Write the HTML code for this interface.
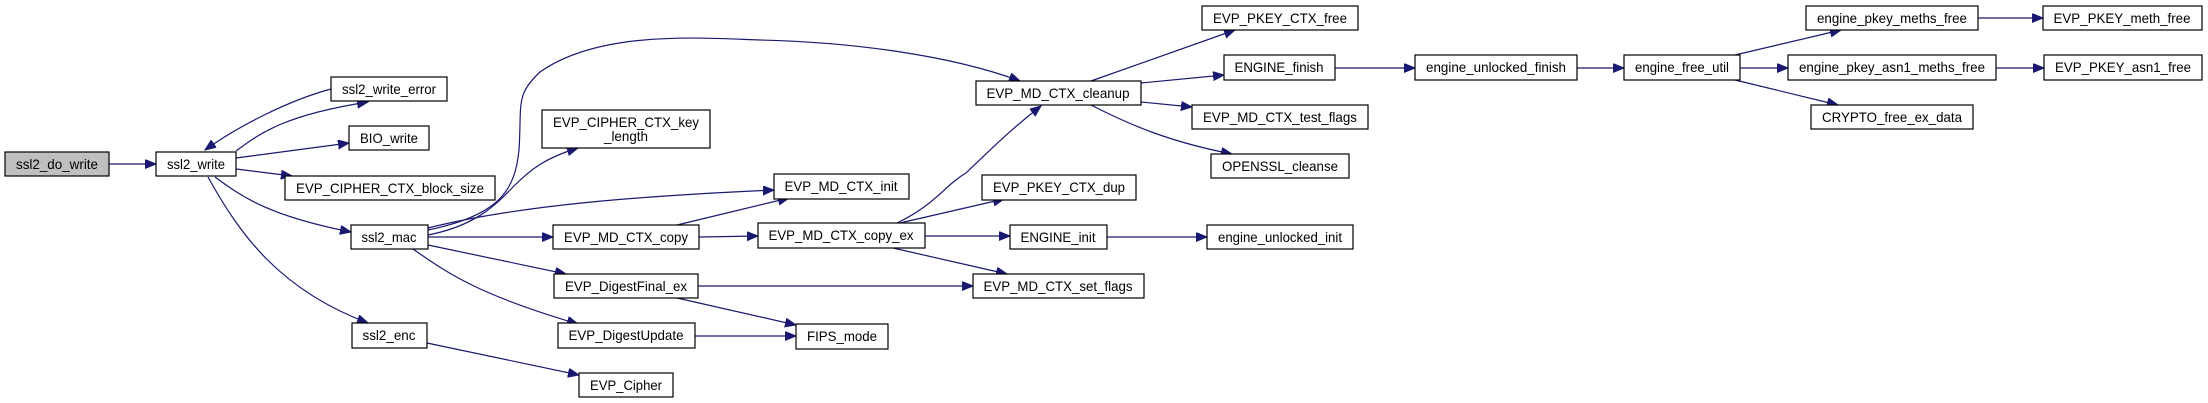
<!DOCTYPE html>
<html><head><meta charset="utf-8"><style>
html,body{margin:0;padding:0;background:#fff;}
svg{display:block}
text{font-family:"Liberation Sans",Arial,sans-serif;font-size:14px;fill:#000}
.n{fill:#fff;stroke:#000;stroke-width:1.2}
.e{fill:none;stroke:#191970;stroke-width:1.2}
</style></head><body>
<svg width="2208" height="403" viewBox="0 0 2208 403" xmlns="http://www.w3.org/2000/svg">
<defs><marker id="a" markerUnits="userSpaceOnUse" markerWidth="12" markerHeight="10" refX="11" refY="4.5" orient="auto"><path d="M0,0 L11,4.5 L0,9 z" fill="#191970" stroke="#191970"/></marker></defs>
<g marker-end="url(#a)">
<path class="e" d="M108,164 L156,164"/>
<path class="e" d="M236,151 C260,133 285,115 368,102"/>
<path class="e" d="M331,89 C290,100 240,125 205,150"/>
<path class="e" d="M236,158 L349,143"/>
<path class="e" d="M236,169 L292,176"/>
<path class="e" d="M215,177 C240,195 265,215 351,232"/>
<path class="e" d="M208,177 C240,235 280,290 368,323"/>
<path class="e" d="M428,235 C480,225 500,200 515,185 C530,170 545,158 578,148"/>
<path class="e" d="M428,230 C500,215 515,190 519,150 C522,105 515,95 540,72 C600,30 700,38 760,40 C850,42 950,55 1020,81"/>
<path class="e" d="M428,228 C520,205 640,196 774,190"/>
<path class="e" d="M428,237 L553,237"/>
<path class="e" d="M428,245 L566,274"/>
<path class="e" d="M413,249 C450,275 480,295 578,324"/>
<path class="e" d="M427,343 L579,375"/>
<path class="e" d="M677,225 L789,198"/>
<path class="e" d="M699,237 L758,236"/>
<path class="e" d="M698,286 L973,286"/>
<path class="e" d="M677,298 L796,325"/>
<path class="e" d="M695,336 L796,336"/>
<path class="e" d="M897,223 C935,205 945,185 966,173 C990,150 1010,130 1041,106"/>
<path class="e" d="M900,223 L1004,199"/>
<path class="e" d="M925,236 L1010,236"/>
<path class="e" d="M893,248 L1007,274"/>
<path class="e" d="M1091,81 L1235,30"/>
<path class="e" d="M1141,83 L1224,75"/>
<path class="e" d="M1141,102 L1192,107"/>
<path class="e" d="M1091,105 C1130,125 1170,142 1232,154"/>
<path class="e" d="M1107,237 L1207,237"/>
<path class="e" d="M1335,68 L1415,68"/>
<path class="e" d="M1577,68 L1624,68"/>
<path class="e" d="M1735,55 L1841,30"/>
<path class="e" d="M1740,68 L1788,68"/>
<path class="e" d="M1735,80 L1838,105"/>
<path class="e" d="M1978,18 L2043,18"/>
<path class="e" d="M1996,68 L2044,68"/>
</g>
<g>
<rect x="5" y="152" width="104" height="24" fill="#bfbfbf" stroke="#000" stroke-width="1.2"/><text x="57" y="169" text-anchor="middle" textLength="82" lengthAdjust="spacingAndGlyphs">ssl2_do_write</text>
<rect class="n" x="156" y="152" width="80" height="24"/><text x="196" y="169" text-anchor="middle" textLength="58" lengthAdjust="spacingAndGlyphs">ssl2_write</text>
<rect class="n" x="331" y="77" width="116" height="24"/><text x="389" y="94" text-anchor="middle" textLength="94" lengthAdjust="spacingAndGlyphs">ssl2_write_error</text>
<rect class="n" x="349" y="126" width="80" height="24"/><text x="389" y="143" text-anchor="middle" textLength="58" lengthAdjust="spacingAndGlyphs">BIO_write</text>
<rect class="n" x="285" y="176" width="210" height="24"/><text x="390" y="193" text-anchor="middle" textLength="188" lengthAdjust="spacingAndGlyphs">EVP_CIPHER_CTX_block_size</text>
<rect class="n" x="351" y="225" width="77" height="24"/><text x="389" y="242" text-anchor="middle" textLength="55" lengthAdjust="spacingAndGlyphs">ssl2_mac</text>
<rect class="n" x="352" y="323" width="75" height="25"/><text x="389" y="340" text-anchor="middle" textLength="53" lengthAdjust="spacingAndGlyphs">ssl2_enc</text>
<rect class="n" x="542" y="110" width="168" height="38"/><text x="626" y="127" text-anchor="middle" textLength="146" lengthAdjust="spacingAndGlyphs">EVP_CIPHER_CTX_key</text><text x="626" y="141" text-anchor="middle" textLength="44" lengthAdjust="spacingAndGlyphs">_length</text>
<rect class="n" x="553" y="225" width="146" height="24"/><text x="626" y="242" text-anchor="middle" textLength="124" lengthAdjust="spacingAndGlyphs">EVP_MD_CTX_copy</text>
<rect class="n" x="554" y="274" width="144" height="24"/><text x="626" y="291" text-anchor="middle" textLength="122" lengthAdjust="spacingAndGlyphs">EVP_DigestFinal_ex</text>
<rect class="n" x="558" y="323" width="137" height="25"/><text x="626" y="340" text-anchor="middle" textLength="115" lengthAdjust="spacingAndGlyphs">EVP_DigestUpdate</text>
<rect class="n" x="579" y="373" width="94" height="24"/><text x="626" y="390" text-anchor="middle" textLength="72" lengthAdjust="spacingAndGlyphs">EVP_Cipher</text>
<rect class="n" x="774" y="174" width="135" height="25"/><text x="841" y="191" text-anchor="middle" textLength="113" lengthAdjust="spacingAndGlyphs">EVP_MD_CTX_init</text>
<rect class="n" x="758" y="223" width="167" height="25"/><text x="841" y="240" text-anchor="middle" textLength="145" lengthAdjust="spacingAndGlyphs">EVP_MD_CTX_copy_ex</text>
<rect class="n" x="796" y="324" width="92" height="25"/><text x="842" y="341" text-anchor="middle" textLength="70" lengthAdjust="spacingAndGlyphs">FIPS_mode</text>
<rect class="n" x="976" y="81" width="165" height="24"/><text x="1058" y="98" text-anchor="middle" textLength="143" lengthAdjust="spacingAndGlyphs">EVP_MD_CTX_cleanup</text>
<rect class="n" x="982" y="175" width="154" height="25"/><text x="1059" y="192" text-anchor="middle" textLength="132" lengthAdjust="spacingAndGlyphs">EVP_PKEY_CTX_dup</text>
<rect class="n" x="1010" y="225" width="97" height="24"/><text x="1058" y="242" text-anchor="middle" textLength="75" lengthAdjust="spacingAndGlyphs">ENGINE_init</text>
<rect class="n" x="973" y="274" width="171" height="24"/><text x="1058" y="291" text-anchor="middle" textLength="149" lengthAdjust="spacingAndGlyphs">EVP_MD_CTX_set_flags</text>
<rect class="n" x="1202" y="6" width="156" height="24"/><text x="1280" y="23" text-anchor="middle" textLength="134" lengthAdjust="spacingAndGlyphs">EVP_PKEY_CTX_free</text>
<rect class="n" x="1224" y="55" width="111" height="25"/><text x="1279" y="72" text-anchor="middle" textLength="89" lengthAdjust="spacingAndGlyphs">ENGINE_finish</text>
<rect class="n" x="1192" y="105" width="176" height="24"/><text x="1280" y="122" text-anchor="middle" textLength="154" lengthAdjust="spacingAndGlyphs">EVP_MD_CTX_test_flags</text>
<rect class="n" x="1211" y="154" width="138" height="24"/><text x="1280" y="171" text-anchor="middle" textLength="116" lengthAdjust="spacingAndGlyphs">OPENSSL_cleanse</text>
<rect class="n" x="1207" y="225" width="146" height="24"/><text x="1280" y="242" text-anchor="middle" textLength="124" lengthAdjust="spacingAndGlyphs">engine_unlocked_init</text>
<rect class="n" x="1415" y="55" width="162" height="25"/><text x="1496" y="72" text-anchor="middle" textLength="140" lengthAdjust="spacingAndGlyphs">engine_unlocked_finish</text>
<rect class="n" x="1624" y="55" width="116" height="25"/><text x="1682" y="72" text-anchor="middle" textLength="94" lengthAdjust="spacingAndGlyphs">engine_free_util</text>
<rect class="n" x="1806" y="6" width="172" height="24"/><text x="1892" y="23" text-anchor="middle" textLength="150" lengthAdjust="spacingAndGlyphs">engine_pkey_meths_free</text>
<rect class="n" x="1788" y="55" width="208" height="25"/><text x="1892" y="72" text-anchor="middle" textLength="186" lengthAdjust="spacingAndGlyphs">engine_pkey_asn1_meths_free</text>
<rect class="n" x="1811" y="105" width="162" height="24"/><text x="1892" y="122" text-anchor="middle" textLength="140" lengthAdjust="spacingAndGlyphs">CRYPTO_free_ex_data</text>
<rect class="n" x="2043" y="6" width="159" height="24"/><text x="2122" y="23" text-anchor="middle" textLength="137" lengthAdjust="spacingAndGlyphs">EVP_PKEY_meth_free</text>
<rect class="n" x="2044" y="55" width="158" height="25"/><text x="2123" y="72" text-anchor="middle" textLength="136" lengthAdjust="spacingAndGlyphs">EVP_PKEY_asn1_free</text>
</g>
</svg>
</body></html>
